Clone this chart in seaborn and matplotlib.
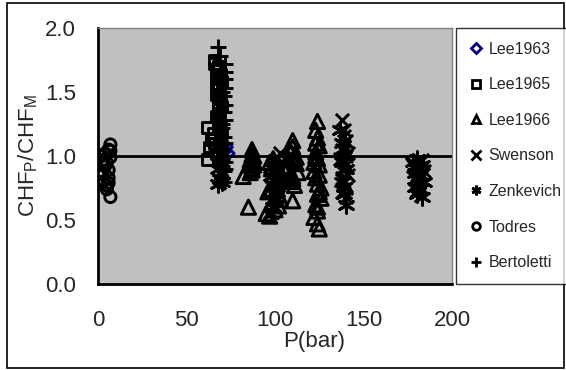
import matplotlib
matplotlib.use("Agg")
import matplotlib.pyplot as plt
import seaborn as sns
from matplotlib.lines import Line2D
from matplotlib.patches import Rectangle

# data: pressure in bar, CHF ratio
lee1963_p = [71, 72, 73]
lee1963_r = [1.04, 1.07, 1.02]

lee1965_p = [62, 62, 66, 66, 67, 67, 67, 67, 68, 68, 68, 68, 68, 69, 69, 69, 69, 70, 70, 70, 66, 67, 68, 69, 63, 64, 65,
             68, 69, 70, 68, 69, 70, 67, 68, 69, 70]
lee1965_r = [1.22, 0.97, 1.75, 1.72, 1.68, 1.62, 1.55, 1.48, 1.42, 1.37, 1.33, 1.29, 1.25, 1.2, 1.16, 1.12, 1.08,
             1.05, 1.0, 0.97, 1.1, 1.02, 0.99, 1.15, 1.07, 1.13, 1.18,
             1.7, 1.64, 1.58, 1.52, 1.45, 1.39, 1.31, 1.27, 1.23, 1.18]

lee1966_p = [87, 87, 87, 87, 87, 87, 86, 88, 86, 88, 82, 85, 87, 86, 88,
             95, 97, 98, 99, 100, 101, 102, 103, 98, 100, 102, 96, 99, 101, 103, 97, 100, 99, 101, 98, 102,
             110, 110, 109, 111, 108, 112, 107, 113, 110, 109, 111, 106, 110, 108, 111, 109, 112, 110,
             124, 123, 124, 125, 123, 124, 125, 122, 123, 124, 125, 126, 123, 124, 122, 124, 125, 123, 124,
             123, 125, 124, 122, 126]
lee1966_r = [1.05, 1.01, 0.98, 0.95, 0.92, 0.89, 0.97, 0.93, 0.87, 1.0, 0.84, 0.6, 0.9, 0.94, 0.96,
             0.55, 0.95, 0.9, 0.85, 0.8, 0.75, 0.7, 0.66, 0.62, 0.58, 0.61, 0.72, 0.98, 0.93, 0.87, 0.53, 0.68,
             0.78, 0.83, 0.74, 0.9,
             1.12, 1.07, 1.03, 1.0, 0.97, 0.94, 0.9, 0.87, 0.84, 0.8, 0.77, 0.92, 0.65, 1.05, 0.95, 0.86, 0.99, 0.82,
             1.27, 1.2, 1.14, 1.08, 1.03, 0.98, 0.93, 0.88, 0.83, 0.78, 0.72, 0.67, 0.62, 0.57, 0.52, 0.47, 0.43,
             1.1, 0.7, 1.0, 0.85, 0.6, 0.95, 0.75]

swenson_p = [138, 139, 140, 138, 140, 139, 138, 141, 139, 140, 138, 139, 137, 140, 103, 104, 101,
             182, 180, 178, 184, 181, 179, 183, 139, 140, 138, 141]
swenson_r = [1.28, 1.2, 1.12, 1.05, 1.0, 0.95, 0.9, 0.85, 0.8, 0.75, 0.72, 1.16, 0.98, 0.68, 1.02, 0.95, 0.88,
             0.95, 0.85, 0.92, 0.88, 0.78, 0.82, 0.97, 1.08, 0.93, 0.83, 1.02]

zenkevich_p = [68, 69, 70, 68, 70, 98, 99, 100, 101, 102, 100, 99, 101, 98,
               137, 138, 139, 140, 138, 139, 140, 139, 138,
               178, 180, 182, 184, 179, 181, 183, 180, 182, 179, 183, 181, 180]
zenkevich_r = [0.78, 0.82, 0.86, 0.9, 0.8, 0.55, 0.6, 0.66, 0.72, 0.8, 0.88, 0.93, 0.76, 0.84,
               1.2, 1.1, 1.0, 0.9, 0.8, 0.7, 0.62, 0.76, 0.95,
               0.95, 0.9, 0.85, 0.8, 0.76, 0.72, 0.68, 0.98, 0.74, 0.87, 0.93, 0.83, 0.7]

todres_p = [2, 2, 3, 3, 4, 4, 5, 5, 6, 6, 7, 7, 7, 6, 5, 3, 7, 6]
todres_r = [1.0, 0.86, 0.97, 0.8, 1.02, 0.92, 0.95, 0.77, 1.05, 0.89, 1.09, 1.04, 0.99, 0.83, 0.74, 0.93, 0.68, 0.79]

bert_p = [68, 69, 72, 72, 72, 72, 71, 72, 71, 72, 70, 71, 72, 70, 71, 72, 70, 71, 69, 70, 71, 72, 70,
          69, 70, 69, 70, 69]
bert_r = [1.85, 1.78, 1.72, 1.66, 1.6, 1.53, 1.47, 1.4, 1.34, 1.28, 1.22, 1.15, 1.1, 1.05, 1.0, 0.95, 0.92,
          0.88, 0.85, 0.83, 0.8, 0.9, 0.97, 1.62, 1.5, 1.36, 1.25, 1.12]

sns.set_style("white")
plt.rcParams['font.family'] = ['Liberation Sans', 'DejaVu Sans']

fig = plt.figure(figsize=(5.66, 3.70), dpi=100)
ax = fig.add_axes([98 / 566, 86 / 370, 354 / 566, 256 / 370])
ax.set_facecolor('#c0c0c0')

# reference line at 1
ax.plot([0, 200], [1, 1], color='black', lw=2, zorder=1)

series = [
    ('Lee1963', lee1963_p, lee1963_r, 'D', 50, '#000080', True),
    ('Lee1965', lee1965_p, lee1965_r, 's', 60, 'black', True),
    ('Lee1966', lee1966_p, lee1966_r, '^', 105, 'black', True),
    ('Swenson', swenson_p, swenson_r, 'x', 90, 'black', False),
    ('Zenkevich', zenkevich_p, zenkevich_r, (6, 2, 0), 125, 'black', False),
    ('Todres', todres_p, todres_r, 'o', 65, 'black', True),
    ('Bertoletti', bert_p, bert_r, '+', 140, 'black', False),
]

handles = []
for name, p, r, mk, size, col, filled in series:
    if filled:
        sns.scatterplot(x=p, y=r, marker=mk, s=size, facecolors='none', edgecolor=col,
                        linewidth=2.1, ax=ax, zorder=2)
    else:
        sns.scatterplot(x=p, y=r, marker=mk, s=size, color=col, linewidth=2.1, ax=ax, zorder=2)
    handles.append(Line2D([], [], ls='none', marker=mk, markersize=5.5 if filled else 7,
                          markerfacecolor='none' if filled else col, markeredgecolor=col,
                          markeredgewidth=2.0, label=name))

ax.set_xlim(0, 200)
ax.set_ylim(0, 2.0)
ax.set_xticks([0, 50, 100, 150, 200])
ax.set_yticks([0, 0.5, 1.0, 1.5, 2.0])
ax.set_yticklabels([f'{v:.1f}' for v in [0, 0.5, 1.0, 1.5, 2.0]])
ax.tick_params(axis='x', direction='in', length=7, width=1, color='#505050', pad=19, labelsize=16)
ax.tick_params(axis='y', direction='in', length=7, width=1, color='#505050', pad=16, labelsize=16)

for s in ['top', 'right']:
    ax.spines[s].set_color('#808080')
    ax.spines[s].set_linewidth(1)
for s in ['left', 'bottom']:
    ax.spines[s].set_color('black')
    ax.spines[s].set_linewidth(2)

ax.set_xlabel('P(bar)', fontsize=16)
ax.xaxis.set_label_coords(0.61, -0.185)
ax.set_ylabel(r'CHF$_\mathregular{P}$/CHF$_\mathregular{M}$', fontsize=16)
ax.yaxis.set_label_coords(-0.165, 0.5)

leg = fig.legend(handles=handles, loc='upper left', bbox_to_anchor=(456 / 566, 1 - 28 / 370),
                 fontsize=11.5, frameon=True, fancybox=False, edgecolor='black',
                 labelspacing=1.29, borderpad=0.85, handlelength=0.8, handletextpad=0.4,
                 borderaxespad=0)
leg.get_frame().set_linewidth(1)

fig.patches.append(Rectangle((7 / 566, 2 / 370), 557 / 566, 365 / 370, transform=fig.transFigure,
                             fill=False, edgecolor='black', lw=1.2))

plt.savefig('out.png', dpi=100)
